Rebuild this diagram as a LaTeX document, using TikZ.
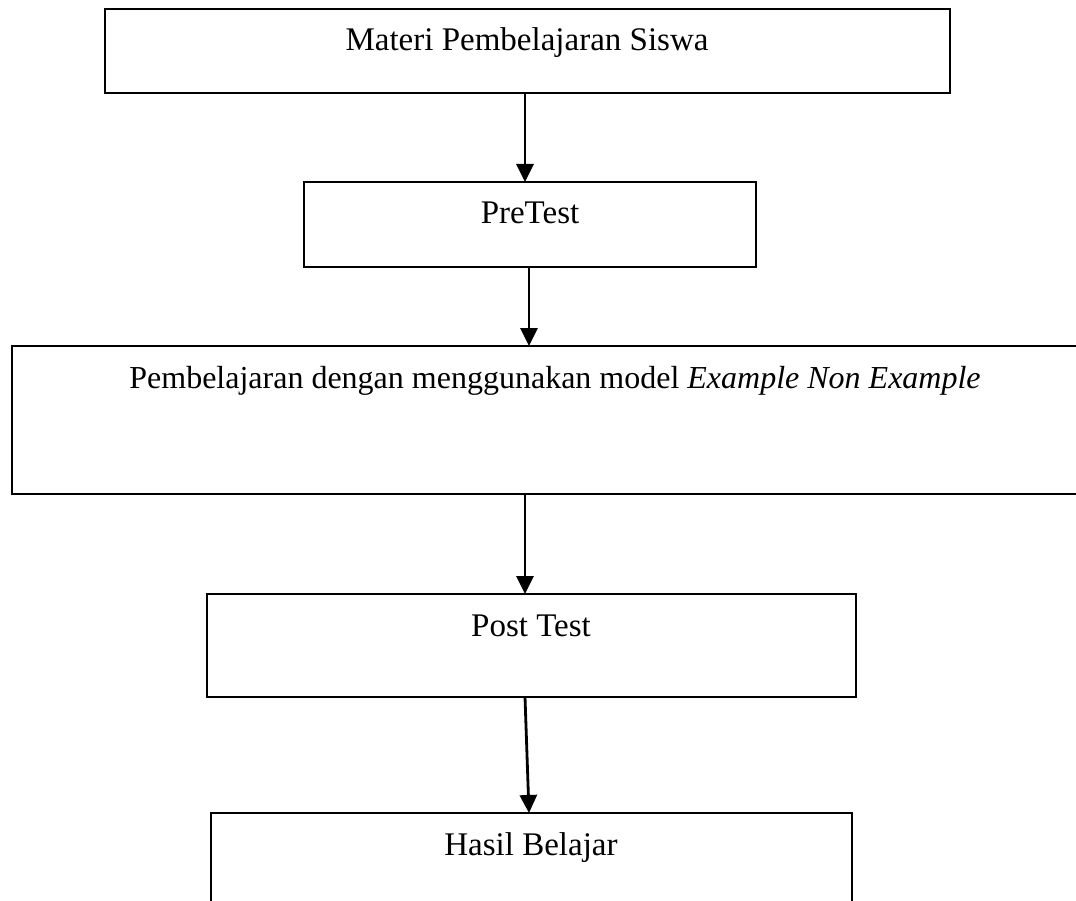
\documentclass[tikz,border=0pt]{standalone}
\usepackage{fontspec}
\setmainfont{Liberation Serif}
\usetikzlibrary{arrows.meta}
\begin{document}
\begin{tikzpicture}[x=1pt,y=-1pt,
  box/.style={draw=black, line width=2.8pt, inner sep=0pt, outer sep=0pt, rectangle},
  lbl/.style={anchor=base, inner sep=0pt, font=\fontsize{33}{40}\selectfont},
  arr/.style={line width=2.8pt, -{Triangle[width=17pt,length=18pt]}}]
\useasboundingbox (0,0) rectangle (1076,901);
\clip (0,0) rectangle (1076,901);
\node[box, minimum width=845pt, minimum height=84pt] (b1) at (527.5,51) {};
\node[box, minimum width=452pt, minimum height=85pt] (b2) at (530,224.5) {};
\node[box, minimum width=1088pt, minimum height=148pt] (b3) at (556,420) {};
\node[box, minimum width=649pt, minimum height=103pt] (b4) at (531.5,645.5) {};
\node[box, minimum width=641pt, minimum height=117pt] (b5) at (531.5,871.5) {};
\node[lbl] (l1) at (527,51) {Materi Pembelajaran Siswa};
\node[lbl] (l2) at (530,224) {PreTest};
\node[lbl, font=\fontsize{32}{40}\selectfont] (l3) at (555,388) {Pembelajaran dengan menggunakan model \textit{Example Non Example}};
\node[lbl] (l4) at (531,636) {Post Test};
\node[lbl] (l5) at (531,855) {Hasil Belajar};
\coordinate (c1) at (525,0);
\coordinate (c2) at (529,0);
\draw[arr] (b1.south -| c1) -- (b2.north -| c1);
\draw[arr] (b2.south -| c2) -- (b3.north -| c2);
\draw[arr] (b3.south -| c1) -- (b4.north -| c1);
\draw[arr] (b4.south -| c1) -- (b5.north -| c2);
\end{tikzpicture}
\end{document}
